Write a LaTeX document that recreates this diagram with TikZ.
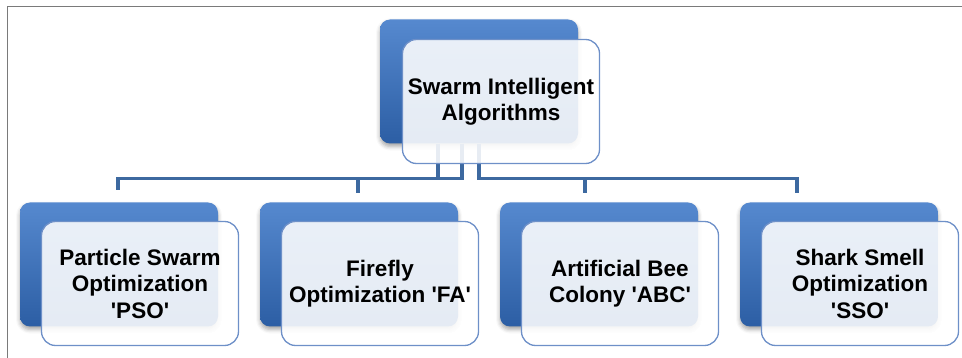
\documentclass[tikz,border=0pt]{standalone}
\usepackage{fontspec}
\setmainfont{Liberation Sans}
\usetikzlibrary{shadows.blur}
\definecolor{boxtop}{HTML}{5689CF}
\definecolor{boxbot}{HTML}{2C5EA4}
\definecolor{edgeblue}{HTML}{6E90C8}
\definecolor{connblue}{HTML}{3D69A0}
\definecolor{framegray}{HTML}{7A7A7A}
\newcommand{\sq}{\textquotesingle}
\tikzset{
  backbox/.style={rounded corners=10pt, minimum width=198pt, minimum height=124pt,
    top color=boxtop, bottom color=boxbot, draw=none, inner sep=0pt,
    blur shadow={shadow xshift=0pt, shadow yshift=-3pt, shadow blur radius=4pt,
      shadow opacity=35}},
  frontbox/.style={rounded corners=14pt, minimum width=197pt, minimum height=124pt,
    draw=edgeblue, line width=1.3pt, fill=white, fill opacity=0.88, text opacity=1,
    align=center, inner sep=0pt,
    font=\fontsize{22.5}{26.5}\selectfont\bfseries},
  conn/.style={draw=connblue, line width=3.6pt},
}
\begin{document}
\begin{tikzpicture}[x=1pt, y=-1pt]
  \useasboundingbox (0,0) rectangle (962,358);
  % page frame
  \draw[framegray, line width=1.6pt] (7.5,358) -- (7.5,6.5) -- (962,6.5);

  % blue back plates
  \node[backbox] (top-b) at (479,81.5) {};
  \node[backbox] (pso-b) at (119,264.5) {};
  \node[backbox] (fa-b)  at (359,264.5) {};
  \node[backbox] (abc-b) at (599,264.5) {};
  \node[backbox] (sso-b) at (839,264.5) {};

  % elbow connectors from the root to each child
  \draw[conn] ([xshift=-41pt]top-b.south) -- ++(0,35) -| ([yshift=12pt,xshift=-1pt]pso-b.north);
  \draw[conn] ([xshift=-17pt]top-b.south) -- ++(0,35) -| ([yshift=9pt,xshift=-1pt]fa-b.north);
  \draw[conn] (top-b.south) -- ++(0,35) -| ([yshift=9pt,xshift=-14pt]abc-b.north);
  \draw[conn] (top-b.south) -- ++(0,35) -| ([yshift=9pt,xshift=-42pt]sso-b.north);

  % translucent text panels
  \node[frontbox] (top) at (501,101.5) {Swarm Intelligent\\Algorithms};
  \node[frontbox] (pso) at (140,283.5) {Particle Swarm\\Optimization\\\sq PSO\sq};
  \node[frontbox] (fa)  at (380,283.5) {Firefly\\Optimization \sq FA\sq};
  \node[frontbox] (abc) at (620,283.5) {Artificial Bee\\Colony \sq ABC\sq};
  \node[frontbox] (sso) at (860,283.5) {Shark Smell\\Optimization\\\sq SSO\sq};
\end{tikzpicture}
\end{document}
